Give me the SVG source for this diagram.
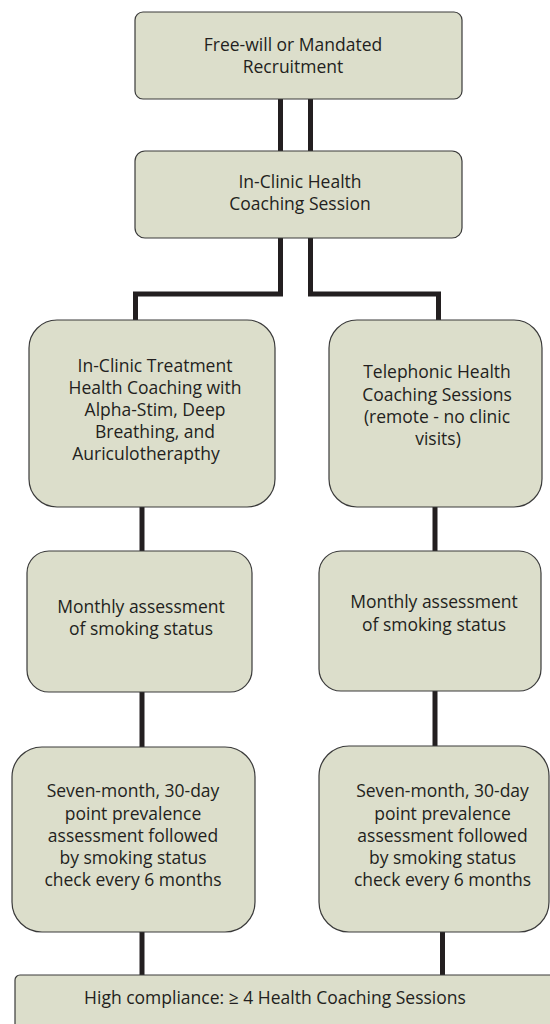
<svg xmlns="http://www.w3.org/2000/svg" width="550" height="1024" viewBox="0 0 550 1024">
<style>
.box{fill:#dcdecb;stroke:#3a3a3a;stroke-width:1.2}
.t{font-family:"Open Sans","Noto Sans",sans-serif;font-size:17.5px;fill:#231f20;text-anchor:middle}
.c{fill:none;stroke:#231f20;stroke-width:5}
</style>
<rect width="550" height="1024" fill="#ffffff"/>
<g id="connectors">
<path class="c" d="M280.5 99V151"/>
<path class="c" d="M310.5 99V151"/>
<path class="c" d="M280.5 238V294H135.5V320"/>
<path class="c" d="M310.5 238V294H438.5V320"/>
<path class="c" d="M142 507V551"/>
<path class="c" d="M142 692V747"/>
<path class="c" d="M435 507V551"/>
<path class="c" d="M435 691V746"/>
<path class="c" d="M142 932V975"/>
<path class="c" d="M442.5 932V975"/>
</g>
<g id="recruitment">
<rect class="box" x="135" y="12" width="327" height="87" rx="8"/>
<text class="t" x="293" y="51">Free-will or Mandated</text>
<text class="t" x="293" y="73">Recruitment</text>
</g>
<g id="session">
<rect class="box" x="135" y="151" width="327" height="87" rx="10"/>
<text class="t" x="300" y="188">In-Clinic Health</text>
<text class="t" x="300" y="210">Coaching Session</text>
</g>
<g id="treatment">
<rect class="box" x="29" y="320" width="246" height="187" rx="28"/>
<text class="t" x="155" y="372">In-Clinic Treatment</text>
<text class="t" x="155" y="394">Health Coaching with</text>
<text class="t" x="155" y="416">Alpha-Stim, Deep</text>
<text class="t" x="155" y="438">Breathing, and</text>
<text class="t" x="146" y="460">Auriculotherapthy</text>
</g>
<g id="telephonic">
<rect class="box" x="329" y="320" width="213" height="187" rx="28"/>
<text class="t" x="437" y="378">Telephonic Health</text>
<text class="t" x="437" y="400.5">Coaching Sessions</text>
<text class="t" x="437" y="423">(remote - no clinic</text>
<text class="t" x="438" y="445">visits)</text>
</g>
<g id="monthly-left">
<rect class="box" x="27" y="551" width="225" height="141" rx="22"/>
<text class="t" x="141" y="613">Monthly assessment</text>
<text class="t" x="141" y="635">of smoking status</text>
</g>
<g id="monthly-right">
<rect class="box" x="319" y="551" width="222" height="140" rx="22"/>
<text class="t" x="434" y="608">Monthly assessment</text>
<text class="t" x="434" y="630.5">of smoking status</text>
</g>
<g id="followup-left">
<rect class="box" x="12" y="747" width="243" height="185" rx="30"/>
<text class="t" x="133" y="797">Seven-month, 30-day</text>
<text class="t" x="133" y="819.5">point prevalence</text>
<text class="t" x="133" y="842">assessment followed</text>
<text class="t" x="133" y="864">by smoking status</text>
<text class="t" x="133" y="886">check every 6 months</text>
</g>
<g id="followup-right">
<rect class="box" x="319" y="746" width="230" height="186" rx="30"/>
<text class="t" x="442.5" y="797">Seven-month, 30-day</text>
<text class="t" x="442.5" y="819.5">point prevalence</text>
<text class="t" x="442.5" y="842">assessment followed</text>
<text class="t" x="442.5" y="864">by smoking status</text>
<text class="t" x="442.5" y="886">check every 6 months</text>
</g>
<g id="compliance">
<rect class="box" x="15" y="975" width="560" height="80" rx="5"/>
<text class="t" x="275" y="1004">High compliance: ≥ 4 Health Coaching Sessions</text>
</g>
</svg>
